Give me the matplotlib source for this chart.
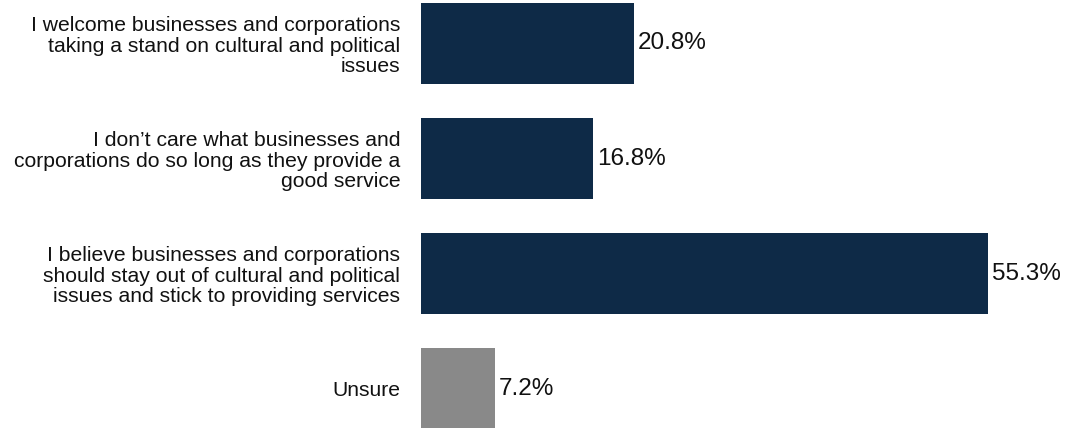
# horizontal bars: opinion on businesses taking political stands
import matplotlib
matplotlib.use('Agg')
import matplotlib.pyplot as plt

categories = [
    "I welcome businesses and corporations\ntaking a stand on cultural and political\nissues",
    "I don\u2019t care what businesses and\ncorporations do so long as they provide a\ngood service",
    "I believe businesses and corporations\nshould stay out of cultural and political\nissues and stick to providing services",
    "Unsure",
]
values = [20.8, 16.8, 55.3, 7.2]
colors = ['#0e2a47', '#0e2a47', '#0e2a47', '#898989']

plt.rcParams['font.family'] = ['Liberation Sans', 'DejaVu Sans']

fig = plt.figure(figsize=(10.65, 4.28), dpi=100)
ax = fig.add_axes([421 / 1065, 0, 1 - 421 / 1065, 1])

pos = range(len(values))
ax.barh(pos, values, height=0.705, color=colors)
for i, v in enumerate(values):
    ax.text(v + 0.35, i, f"{v}%", va='center', ha='left', fontsize=17.5, color='#111111')

ax.set_xlim(0, 62.8)
ax.set_ylim(3.343, -0.378)
ax.set_yticks(list(pos))
ax.set_yticklabels(categories, fontsize=15.2, linespacing=1.08, color='#111111')
ax.tick_params(axis='y', length=0, pad=15)
ax.set_xticks([])
for s in ax.spines.values():
    s.set_visible(False)

fig.savefig('out.png', dpi=100)
